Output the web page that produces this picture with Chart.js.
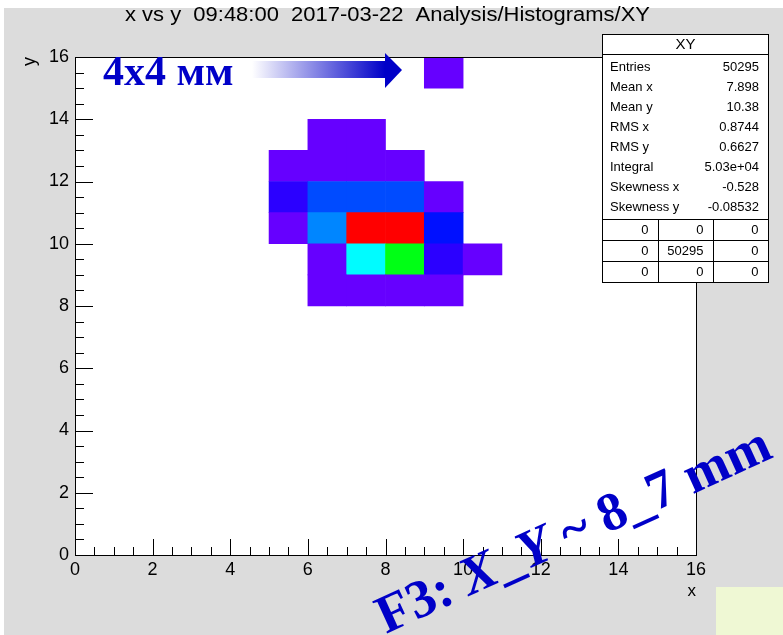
<!DOCTYPE html>
<html>
<head>
<meta charset="utf-8">
<script src="https://cdn.jsdelivr.net/npm/chart.js@4.4.0/dist/chart.umd.min.js"></script>
<style>
  html, body { margin: 0; padding: 0; background: #fff; }
  canvas { display: block; }
</style>
</head>
<body>
<canvas id="xy-chart" width="783" height="635"></canvas>
<script>
// XY histogram: lower bin edges (1 unit wide bins) and bin contents
const binX = [9, 6, 7, 5, 6, 7, 8, 5, 6, 7, 8, 9, 5, 6, 7, 8, 9, 6, 7, 8, 9, 10, 6, 7, 8, 9];
const binY = [15, 13, 13, 12, 12, 12, 12, 11, 11, 11, 11, 11, 10, 10, 10, 10, 10, 9, 9, 9, 9, 9, 8, 8, 8, 8];
const binCounts = [150, 140, 130, 120, 185, 230, 180, 900, 2150, 2200, 2150, 260, 200, 2800, 12400, 12000, 1500, 240, 4000, 6500, 900, 110, 180, 260, 250, 160];

// stats box
const statNames = ["Entries", "Mean x", "Mean y", "RMS x", "RMS y", "Integral", "Skewness x", "Skewness y"];
const statValues = ["50295", "7.898", "10.38", "0.8744", "0.6627", "5.03e+04", "-0.528", "-0.08532"];
const overflowTable = [["0", "0", "0"], ["0", "50295", "0"], ["0", "0", "0"]];

const titleText = "x vs y  09:48:00  2017-03-22  Analysis/Histograms/XY";

const ctx = document.getElementById("xy-chart").getContext("2d");
const zMax = Math.max(...binCounts);
const SANS = "'Liberation Sans', Arial, sans-serif";
const SERIF = "'Liberation Serif', 'Times New Roman', serif";
const BLUE = "#0000c8";
const GRAY = "#dcdcdc";

// ROOT-ish rainbow palette, 20 contour levels
function binColor(v) {
  const level = Math.min(19, Math.floor(v / zMax * 20));
  const hue = 264 * (1 - level / 19);
  return "hsl(" + hue + ", 100%, 50%)";
}

const backgroundPlugin = {
  id: "rootPad",
  beforeDraw(chart) {
    const c = chart.ctx;
    const a = chart.chartArea;
    c.save();
    c.fillStyle = "#fff";
    c.fillRect(0, 0, chart.width, chart.height);
    c.fillStyle = GRAY;
    c.fillRect(4, 8, chart.width - 4, chart.height - 8);
    c.fillStyle = "#fff";
    c.fillRect(a.left, a.top, a.right - a.left, a.bottom - a.top);
    c.fillStyle = "#eff8d4";
    c.fillRect(716, 587, chart.width - 716, chart.height - 587);
    c.restore();
  },
  afterDatasetsDraw(chart) {
    // inward ticks like ROOT: major every 2, minor every 0.5
    const c = chart.ctx;
    const {x, y} = chart.scales;
    const a = chart.chartArea;
    c.save();
    c.strokeStyle = "#000";
    c.lineWidth = 1;
    c.beginPath();
    for (let v = 0; v <= 16; v += 0.5) {
      const major = v % 2 === 0;
      const px = Math.round(x.getPixelForValue(v)) + 0.5;
      c.moveTo(px, a.bottom);
      c.lineTo(px, a.bottom - (major ? 16 : 8));
      const py = Math.round(y.getPixelForValue(v)) + 0.5;
      c.moveTo(a.left, py);
      c.lineTo(a.left + (major ? 18 : 9), py);
    }
    c.stroke();
    // top and right frame
    c.beginPath();
    c.moveTo(a.left, Math.round(a.top) + 0.5);
    c.lineTo(Math.round(a.right) + 0.5, Math.round(a.top) + 0.5);
    c.lineTo(Math.round(a.right) + 0.5, a.bottom);
    c.stroke();
    c.restore();
  },
  afterDraw(chart) {
    const c = chart.ctx;
    c.save();

    // title
    c.font = "20px " + SANS;
    c.fillStyle = "#000";
    c.textBaseline = "alphabetic";
    c.textAlign = "left";
    const tw = c.measureText(titleText).width;
    c.save();
    c.translate(125, 21);
    c.scale(525 / tw, 1);
    c.fillText(titleText, 0, 0);
    c.restore();

    // stats box
    const bx = 602.5, by = 34.5, bw = 166, bh = 248;
    c.fillStyle = "#fff";
    c.fillRect(bx, by, bw, bh);
    c.strokeStyle = "#000";
    c.lineWidth = 1;
    c.strokeRect(bx, by, bw, bh);
    c.beginPath();
    c.moveTo(bx, by + 20); c.lineTo(bx + bw, by + 20);
    c.stroke();
    c.fillStyle = "#000";
    c.font = "15px " + SANS;
    c.textAlign = "center";
    c.textBaseline = "middle";
    c.fillText("XY", bx + bw / 2, by + 10.5);
    c.font = "13px " + SANS;
    statNames.forEach((name, i) => {
      const ty = 67 + i * 20;
      c.textAlign = "left";
      c.fillText(name, 610, ty);
      c.textAlign = "right";
      c.fillText(statValues[i], 759, ty);
    });
    const rowTop = [219.5, 240.5, 261.5];
    const colRight = [658.5, 713.5, 768.5];
    c.beginPath();
    rowTop.forEach(r => { c.moveTo(bx, r); c.lineTo(bx + bw, r); });
    [658.5, 713.5].forEach(cx => { c.moveTo(cx, rowTop[0]); c.lineTo(cx, by + bh); });
    c.stroke();
    overflowTable.forEach((row, r) => {
      row.forEach((val, k) => {
        c.textAlign = "right";
        c.fillText(val, colRight[k] - 10, rowTop[r] + 11);
      });
    });

    // "4x4 mm" label with gradient arrow
    c.fillStyle = BLUE;
    c.font = "bold 42px " + SERIF;
    c.textAlign = "left";
    c.textBaseline = "alphabetic";
    c.fillText("4x4 мм", 103, 85);
    const grad = c.createLinearGradient(252, 0, 385, 0);
    grad.addColorStop(0, "rgba(255,255,255,1)");
    grad.addColorStop(1, BLUE);
    c.fillStyle = grad;
    c.fillRect(252, 61, 134, 17);
    c.fillStyle = BLUE;
    c.beginPath();
    c.moveTo(385, 53);
    c.lineTo(402, 70);
    c.lineTo(385, 88);
    c.closePath();
    c.fill();

    // rotated note
    c.translate(386, 634);
    c.rotate(-24.5 * Math.PI / 180);
    const parts = [
      ["F3: ", "bold 54px " + SERIF],
      ["X", "italic bold 54px " + SERIF],
      ["_", "bold 54px " + SERIF],
      ["Y", "italic bold 54px " + SERIF],
      [" ~ 8_7 mm", "bold 54px " + SERIF]
    ];
    let px = 0;
    parts.forEach(([t, f]) => {
      c.font = f;
      c.fillText(t, px, 0);
      px += c.measureText(t).width;
    });
    c.restore();
  }
};

const data = {
  datasets: [{
    label: "XY",
    data: binX.map((bx, i) => ({ x: bx + 0.5, y: [binY[i], binY[i] + 1] })),
    backgroundColor: binCounts.map(binColor),
    borderWidth: 0,
    barPercentage: 1,
    categoryPercentage: 1
  }]
};

const tickFont = { family: SANS, size: 18 };

const options = {
  responsive: false,
  devicePixelRatio: 1,
  animation: false,
  layout: { padding: { left: 0, top: 57, right: 87, bottom: 0 } },
  plugins: {
    legend: { display: false },
    tooltip: { enabled: false }
  },
  scales: {
    x: {
      type: "linear",
      min: 0,
      max: 16,
      offset: false,
      grid: { display: false, drawTicks: false },
      border: { display: true, color: "#000", width: 1 },
      ticks: { stepSize: 2, font: tickFont, color: "#000", padding: 4, maxRotation: 0 },
      title: { display: true, text: "x", align: "end", color: "#000", font: { family: SANS, size: 17 }, padding: { top: 0, bottom: 33 } },
      afterFit: (scale) => { scale.height = 80; }
    },
    y: {
      type: "linear",
      min: 0,
      max: 16,
      beginAtZero: true,
      grid: { display: false, drawTicks: false },
      border: { display: true, color: "#000", width: 1 },
      ticks: { stepSize: 2, font: tickFont, color: "#000", padding: 6 },
      title: { display: true, text: "y", align: "end", color: "#000", font: { family: SANS, size: 18 }, padding: { top: 19, bottom: 0 } },
      afterFit: (scale) => { scale.width = 75; }
    }
  }
};

new Chart(ctx, {
  type: "bar",
  data: data,
  options: options,
  plugins: [backgroundPlugin]
});
</script>
</body>
</html>
